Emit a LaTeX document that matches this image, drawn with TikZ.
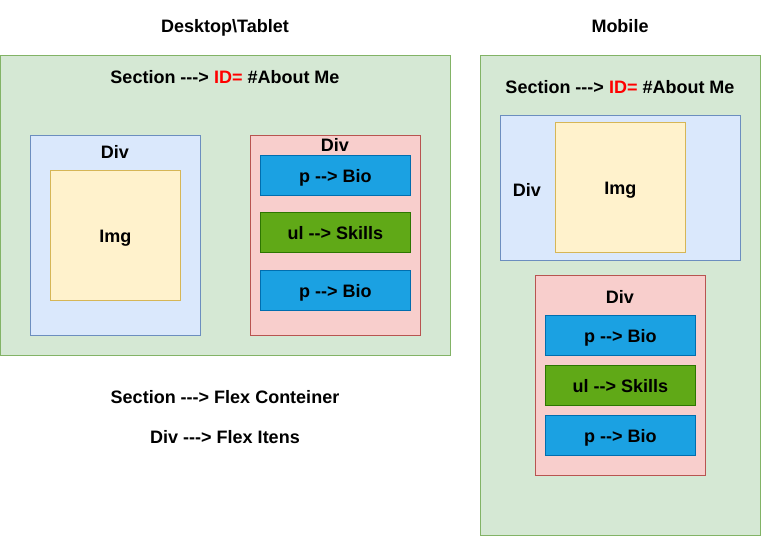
\documentclass[tikz,border=0pt]{standalone}
\usepackage{fontspec}
\setmainfont{Liberation Sans}[Ligatures=TeXOff]
\usepackage{xcolor}
\usetikzlibrary{positioning}
\definecolor{ink}{RGB}{0,0,0}
\definecolor{idred}{RGB}{255,0,0}
\definecolor{secfill}{HTML}{D5E8D4}
\definecolor{secstroke}{HTML}{82B366}
\definecolor{bluefill}{HTML}{DAE8FC}
\definecolor{bluestroke}{HTML}{6C8EBF}
\definecolor{imgfill}{HTML}{FFF2CC}
\definecolor{imgstroke}{HTML}{D6B656}
\definecolor{pinkfill}{HTML}{F8CECC}
\definecolor{pinkstroke}{HTML}{B85450}
\definecolor{pfill}{HTML}{1BA1E2}
\definecolor{pstroke}{HTML}{006EAF}
\definecolor{ulfill}{HTML}{60A917}
\definecolor{ulstroke}{HTML}{2D7600}
\tikzset{
  box/.style n args={4}{
    draw=#2, fill=#1, line width=0.8pt, anchor=north west,
    minimum width=#3, minimum height=#4, inner sep=0pt,
  },
  tag/.style={
    ink, font=\fontsize{18}{20}\selectfont\bfseries, inner sep=0pt,
    text height=12.8pt, text depth=3.8pt, yshift=-2.5pt,
  },
}

\begin{document}
\begin{tikzpicture}[x=1pt,y=-1pt]
  \useasboundingbox[fill=white] (0,0) rectangle (761,536);

  % headings
  \node[tag] (hdesk) at (225,25) {Desktop\textbackslash Tablet};
  \node[tag] (hmob) at (620,25) {Mobile};

  % desktop / tablet
  \node[box={secfill}{secstroke}{450pt}{300pt}] (dsec) at (0,55) {};
  \node[tag] (dsect) at (225,76) {Section ---> \textcolor{idred}{ID=} \#About Me};
  \node[box={bluefill}{bluestroke}{170pt}{200pt}] (ddiv1) at (30,135) {};
  \node[tag] (ddiv1t) at (115,151) {Div};
  \node[box={imgfill}{imgstroke}{130pt}{130pt}] (dimg) at (50,170) {};
  \node[tag] at (dimg.center) {Img};
  \node[box={pinkfill}{pinkstroke}{170pt}{200pt}] (ddiv2) at (250,135) {};
  \node[tag] (ddiv2t) at (335,144) {Div};
  \node[box={pfill}{pstroke}{150pt}{40pt}] (dp1) at (260,155) {};
  \node[tag] at (dp1.center) {p --> Bio};
  \node[box={ulfill}{ulstroke}{150pt}{40pt}] (dul) at (260,212) {};
  \node[tag] at (dul.center) {ul --> Skills};
  \node[box={pfill}{pstroke}{150pt}{40pt}] (dp2) at (260,270) {};
  \node[tag] at (dp2.center) {p --> Bio};

  \node[tag] (nflex) at (225,396) {Section ---> Flex Conteiner};
  \node[tag] (nitem) at (225,436) {Div ---> Flex Itens};

  % mobile
  \node[box={secfill}{secstroke}{280pt}{480pt}] (msec) at (480,55) {};
  \node[tag] (msect) at (620,86) {Section ---> \textcolor{idred}{ID=} \#About Me};
  \node[box={bluefill}{bluestroke}{240pt}{145pt}] (mdiv1) at (500,115) {};
  \node[tag] (mdiv1t) at (527,189) {Div};
  \node[box={imgfill}{imgstroke}{130pt}{130pt}] (mimg) at (555,122) {};
  \node[tag] at (mimg.center) {Img};
  \node[box={pinkfill}{pinkstroke}{170pt}{200pt}] (mdiv2) at (535,275) {};
  \node[tag] (mdiv2t) at (620,296) {Div};
  \node[box={pfill}{pstroke}{150pt}{40pt}] (mp1) at (545,315) {};
  \node[tag] at (mp1.center) {p --> Bio};
  \node[box={ulfill}{ulstroke}{150pt}{40pt}] (mul) at (545,365) {};
  \node[tag] at (mul.center) {ul --> Skills};
  \node[box={pfill}{pstroke}{150pt}{40pt}] (mp2) at (545,415) {};
  \node[tag] at (mp2.center) {p --> Bio};
\end{tikzpicture}
\end{document}
